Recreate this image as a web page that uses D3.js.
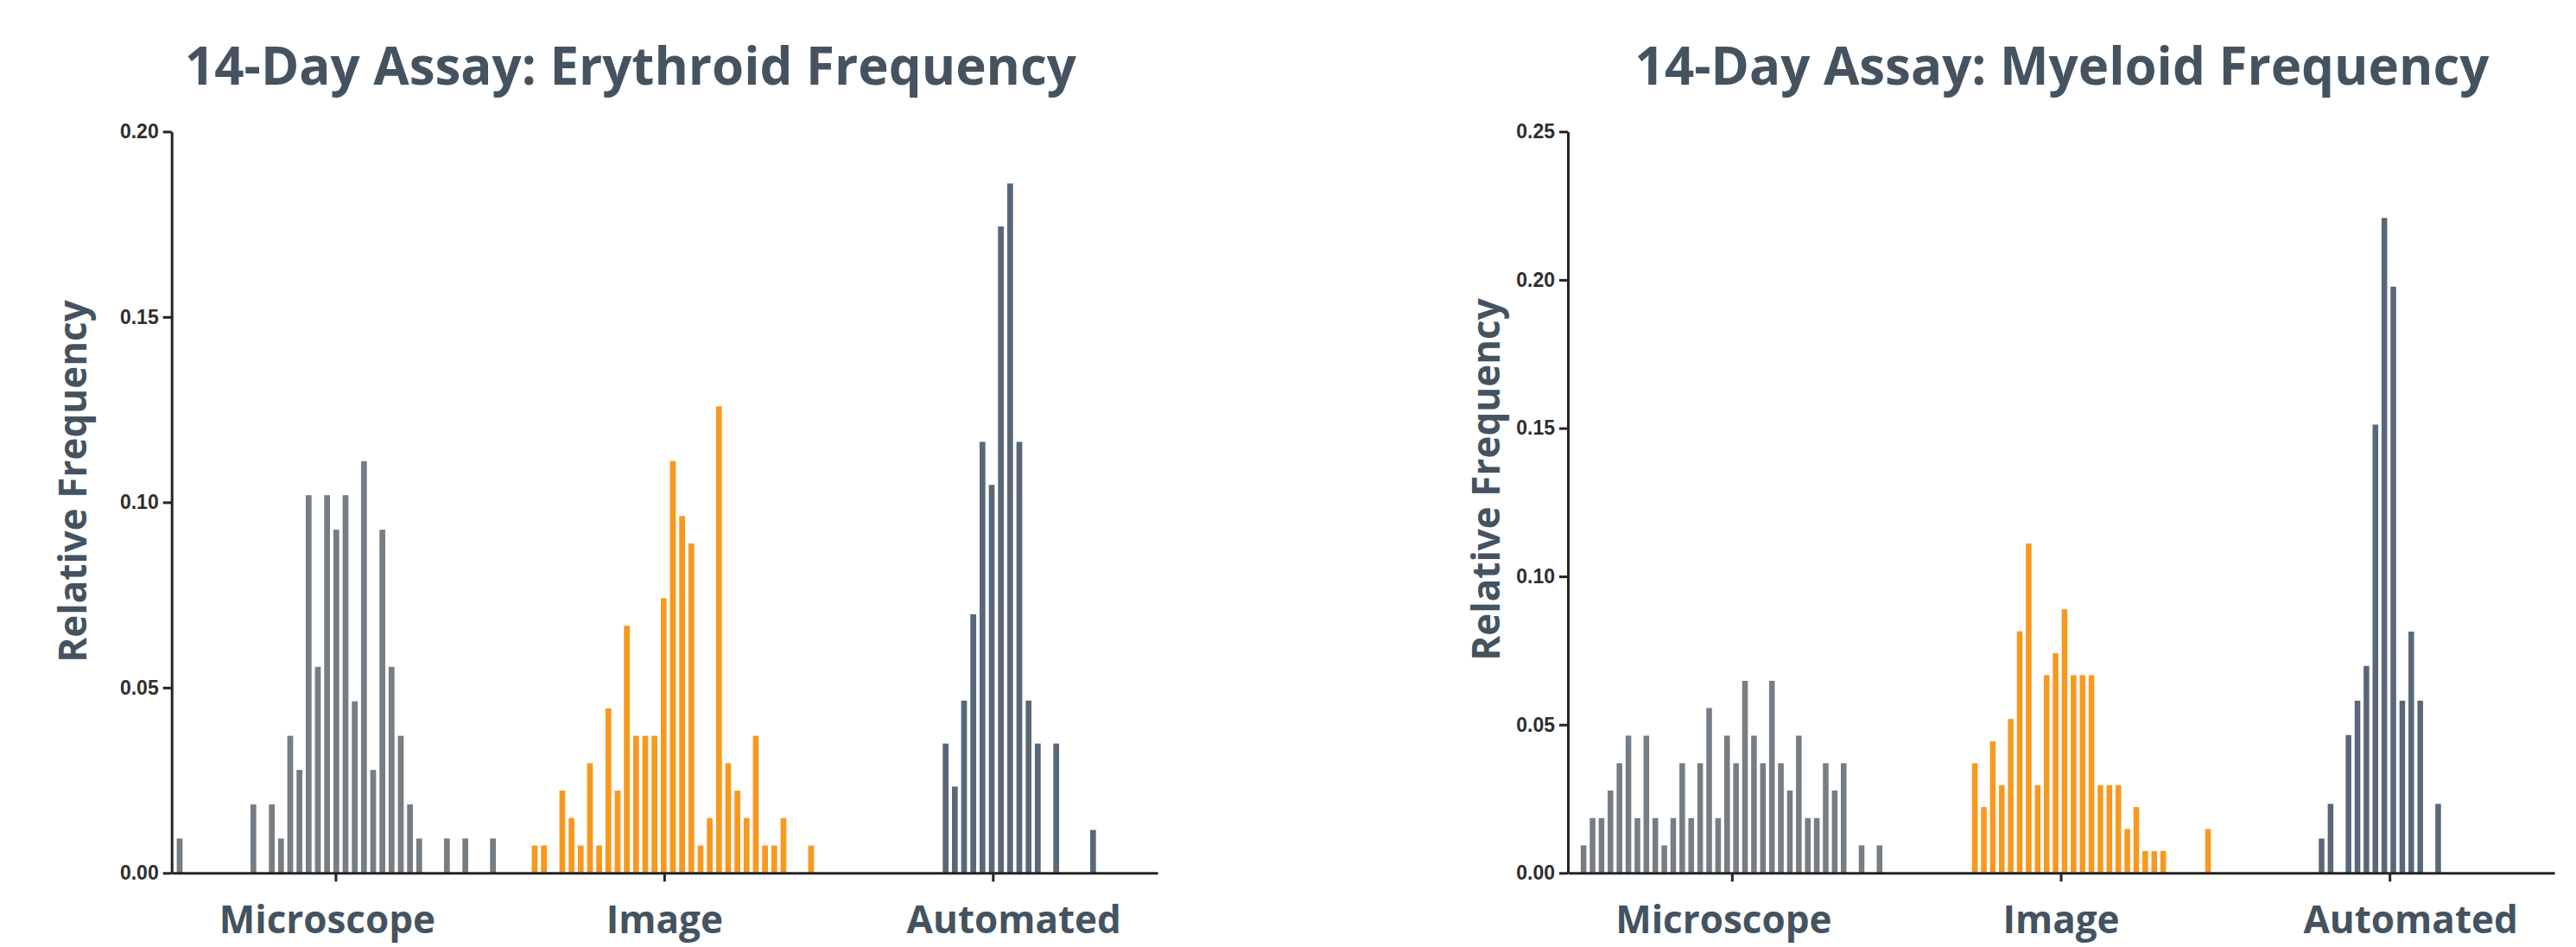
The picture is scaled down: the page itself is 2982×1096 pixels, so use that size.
<!DOCTYPE html>
<html><head><meta charset="utf-8">
<script src="https://cdn.jsdelivr.net/npm/d3@7"></script>
<style>body{margin:0;background:#fff}</style>
</head><body><svg id="c" width="2982" height="1096"></svg>
<script>
// ---------- DATA ----------
const categories = ["Microscope", "Image", "Automated"];
const titles = ["14-Day Assay: Erythroid Frequency", "14-Day Assay: Myeloid Frequency"];
const yLabel = "Relative Frequency";
const yTicksErythroid = [0, 0.05, 0.10, 0.15, 0.20];
const yTicksMyeloid = [0, 0.05, 0.10, 0.15, 0.20, 0.25];

// bin positions (in bin units, relative to group start) and relative frequencies
const erythroidMicroscopeBins = [0,8,10,11,12,13,14,15,16,17,18,19,20,21,22,23,24,25,26,29,31,34];
const erythroidMicroscope = [0.0093,0.0185,0.0185,0.0093,0.0370,0.0278,0.1019,0.0556,0.1019,0.0926,0.1019,0.0463,0.1111,0.0278,0.0926,0.0556,0.0370,0.0185,0.0093,0.0093,0.0093,0.0093];
const erythroidImageBins = [0,1,3,4,5,6,7,8,9,10,11,12,13,14,15,16,17,18,19,20,21,22,23,24,25,26,27,30];
const erythroidImage = [0.0074,0.0074,0.0222,0.0148,0.0074,0.0296,0.0074,0.0444,0.0222,0.0667,0.0370,0.0370,0.0370,0.0741,0.1111,0.0963,0.0889,0.0074,0.0148,0.1259,0.0296,0.0222,0.0148,0.0370,0.0074,0.0074,0.0148,0.0074];
const erythroidAutomatedBins = [0,1,2,3,4,5,6,7,8,9,10,12,16];
const erythroidAutomated = [0.0349,0.0233,0.0465,0.0698,0.1163,0.1047,0.1744,0.1860,0.1163,0.0465,0.0349,0.0349,0.0116];
const erythroidGroupStart = [0.87, 39.4, 84.0];
const erythroidAxisBins = 107;

const myeloidMicroscopeBins = [0,1,2,3,4,5,6,7,8,9,10,11,12,13,14,15,16,17,18,19,20,21,22,23,24,25,26,27,28,29,31,33];
const myeloidMicroscope = [0.0093,0.0185,0.0185,0.0278,0.0370,0.0463,0.0185,0.0463,0.0185,0.0093,0.0185,0.0370,0.0185,0.0370,0.0556,0.0185,0.0463,0.0370,0.0648,0.0463,0.0370,0.0648,0.0370,0.0278,0.0463,0.0185,0.0185,0.0370,0.0278,0.0370,0.0093,0.0093];
const myeloidImageBins = [0,1,2,3,4,5,6,7,8,9,10,11,12,13,14,15,16,17,18,19,20,21,26];
const myeloidImage = [0.0370,0.0222,0.0444,0.0296,0.0519,0.0815,0.1111,0.0296,0.0667,0.0741,0.0889,0.0667,0.0667,0.0667,0.0296,0.0296,0.0296,0.0148,0.0222,0.0074,0.0074,0.0074,0.0148];
const myeloidAutomatedBins = [0,1,3,4,5,6,7,8,9,10,11,13];
const myeloidAutomated = [0.0116,0.0233,0.0465,0.0581,0.0698,0.1512,0.2209,0.1977,0.0581,0.0814,0.0581,0.0233];
const myeloidGroupStart = [1.75, 45.38, 84.04];
const myeloidAxisBins = 110;

const seriesColors = ["#767d83", "#f7981f", "#596879"];

// ---------- DRAW ----------
const svg = d3.select("#c");
svg.append("rect").attr("width", 2982).attr("height", 1096).attr("fill", "#fff");

const TEXT = "#44535f";
const AXIS = "#242424";
const labelShift = [-10, 0, 24];

function drawChart(cfg) {
  const g = svg.append("g");
  const x = d3.scaleLinear().domain([0, cfg.axisBins]).range([cfg.left, cfg.right]);
  const band = d3.scaleBand().domain(categories).range([cfg.left, cfg.right]);
  const y = d3.scaleLinear().domain([0, d3.max(cfg.yTicks)]).range([cfg.bottom, cfg.top]);
  const bw = (x(1) - x(0)) * 0.63;

  cfg.groups.forEach((grp, gi) => {
    const data = grp.values.map((v, i) => ({ x: cfg.starts[gi] + grp.bins[i], v }));
    g.append("g").selectAll("rect").data(data).enter().append("rect")
      .attr("x", d => x(d.x) - bw / 2)
      .attr("width", bw)
      .attr("y", d => y(d.v))
      .attr("height", d => y(0) - y(d.v))
      .attr("fill", seriesColors[gi]);
  });

  const yAxis = d3.axisLeft(y).tickValues(cfg.yTicks).tickFormat(d3.format(".2f"))
    .tickSize(10).tickSizeOuter(0).tickPadding(5);
  const ya = g.append("g").attr("transform", `translate(${cfg.left},0)`).call(yAxis);
  ya.select(".domain").attr("stroke", AXIS).attr("stroke-width", 3);
  ya.selectAll(".tick line").attr("stroke", AXIS).attr("stroke-width", 3);
  ya.selectAll(".tick text").attr("font-family", "'Liberation Sans', Arial, sans-serif")
    .attr("font-weight", "bold").attr("font-size", 23).attr("fill", "#2e2e2e");

  const xAxis = d3.axisBottom(band).tickSize(10).tickSizeOuter(0).tickFormat("");
  const xa = g.append("g").attr("transform", `translate(0,${cfg.bottom})`).call(xAxis);
  xa.select(".domain").attr("stroke", AXIS).attr("stroke-width", 3);
  xa.selectAll(".tick line").attr("stroke", AXIS).attr("stroke-width", 3);

  g.append("g").selectAll("text").data(categories).enter().append("text")
    .attr("x", (d, i) => band(d) + band.bandwidth() / 2 + labelShift[i])
    .attr("y", cfg.bottom + 70)
    .attr("text-anchor", "middle")
    .attr("font-family", "'Open Sans', sans-serif").attr("font-weight", 700)
    .attr("font-size", 44).attr("fill", TEXT)
    .text(d => d);

  g.append("text")
    .attr("transform", `translate(${cfg.yTitleX},${cfg.yTitleY}) rotate(-90)`)
    .attr("text-anchor", "middle")
    .attr("font-family", "'Open Sans', sans-serif").attr("font-weight", 700)
    .attr("font-size", 44).attr("fill", TEXT)
    .text(yLabel);

  g.append("text")
    .attr("x", cfg.titleX).attr("y", 98)
    .attr("text-anchor", "middle")
    .attr("font-family", "'Open Sans', sans-serif").attr("font-weight", 700)
    .attr("font-size", 60).attr("fill", TEXT)
    .text(cfg.title);
}

drawChart({
  title: titles[0], yTicks: yTicksErythroid, axisBins: erythroidAxisBins,
  starts: erythroidGroupStart,
  groups: [
    { bins: erythroidMicroscopeBins, values: erythroidMicroscope },
    { bins: erythroidImageBins, values: erythroidImage },
    { bins: erythroidAutomatedBins, values: erythroidAutomated }
  ],
  left: 198.7, right: 1340, top: 152.3, bottom: 1010.3,
  yTitleX: 100, yTitleY: 557, titleX: 730
});

drawChart({
  title: titles[1], yTicks: yTicksMyeloid, axisBins: myeloidAxisBins,
  starts: myeloidGroupStart,
  groups: [
    { bins: myeloidMicroscopeBins, values: myeloidMicroscope },
    { bins: myeloidImageBins, values: myeloidImage },
    { bins: myeloidAutomatedBins, values: myeloidAutomated }
  ],
  left: 1815, right: 2957, top: 152.3, bottom: 1010.3,
  yTitleX: 1736, yTitleY: 555, titleX: 2387
});
</script>
</body></html>
